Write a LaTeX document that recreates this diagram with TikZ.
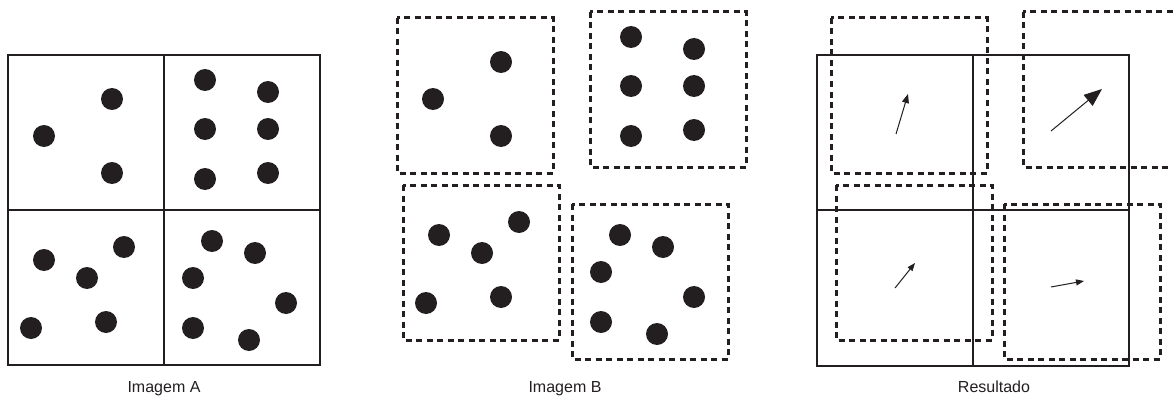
\documentclass[tikz,border=0pt]{standalone}
\usepackage{fontspec}
\setmainfont{Liberation Sans}
\usetikzlibrary{arrows.meta}
\definecolor{ink}{RGB}{35,31,32}
\tikzset{
  dot/.style={fill=ink,draw=none},
  grid/.style={draw=ink,line width=2pt},
  dbox/.style={draw=ink,line width=3pt,dash pattern=on 6pt off 4.5pt},
  vec/.style={draw=ink,line width=1pt},
  lbl/.style={font=\fontsize{16}{18}\selectfont,anchor=base,text=ink,inner sep=0pt}
}
\newcommand{\dotsTL}{\foreach \p in {(104,44),(36,81),(104,118)} \fill[dot] \p circle (11);}
\newcommand{\dotsTR}{\foreach \p in {(41,25),(104,37),(41,74),(104,74),(41,124),(104,118)} \fill[dot] \p circle (11);}
\newcommand{\dotsBL}{\foreach \p in {(36,50),(116,37),(79,68),(23,118),(98,112)} \fill[dot] \p circle (11);}
\newcommand{\dotsBR}{\foreach \p in {(48,31),(91,43),(29,68),(122,93),(29,118),(85,130)} \fill[dot] \p circle (11);}
\begin{document}
\begin{tikzpicture}[x=1pt,y=-1pt]
\useasboundingbox (0,0) rectangle (1173,396);
\clip (0,0) rectangle (1173,396);
% ---------- Imagem A ----------
\begin{scope}[shift={(8,55)}]\dotsTL\end{scope}
\begin{scope}[shift={(164,55)}]\dotsTR\end{scope}
\begin{scope}[shift={(8,210)}]\dotsBL\end{scope}
\begin{scope}[shift={(164,210)}]\dotsBR\end{scope}
\draw[grid] (8,55) rectangle (320,365);
\draw[grid] (164,55) -- (164,365);
\draw[grid] (8,210) -- (320,210);
% ---------- Imagem B ----------
\begin{scope}[shift={(397,18)}]\dotsTL\draw[dbox] (0,0) rectangle (156,155);\end{scope}
\begin{scope}[shift={(590,12)}]\dotsTR\draw[dbox] (0,0) rectangle (156,155);\end{scope}
\begin{scope}[shift={(403,185)}]\dotsBL\draw[dbox] (0,0) rectangle (156,155);\end{scope}
\begin{scope}[shift={(572,204)}]\dotsBR\draw[dbox] (0,0) rectangle (156,155);\end{scope}
% ---------- Resultado ----------
\draw[grid] (817,55) rectangle (1129,366);
\draw[grid] (973,55) -- (973,366);
\draw[grid] (817,210) -- (1129,210);
\draw[dbox] (831,18) rectangle ++(156,155);
\draw[dbox] (1023,12) rectangle ++(156,155);
\draw[dbox] (836,185) rectangle ++(156,155);
\draw[dbox] (1004,204) rectangle ++(156,155);
\coordinate (v1a) at (896,134); \coordinate (v1b) at (908,94);
\coordinate (v2a) at (1051,131); \coordinate (v2b) at (1102,89);
\coordinate (v3a) at (895,288); \coordinate (v3b) at (915,263);
\coordinate (v4a) at (1051,287); \coordinate (v4b) at (1084,281);
\draw[vec,-{Triangle[length=9pt,width=7pt]}] (v1a) -- (v1b);
\draw[vec,-{Triangle[length=18pt,width=14pt]}] (v2a) -- (v2b);
\draw[vec,-{Triangle[length=8pt,width=6pt]}] (v3a) -- (v3b);
\draw[vec,-{Triangle[length=8pt,width=6pt]}] (v4a) -- (v4b);
% ---------- labels ----------
\node[lbl] (la) at (164,392) {Imagem A};
\node[lbl] (lb) at (565,392) {Imagem B};
\node[lbl] (lc) at (994,392) {Resultado};
\end{tikzpicture}
\end{document}
